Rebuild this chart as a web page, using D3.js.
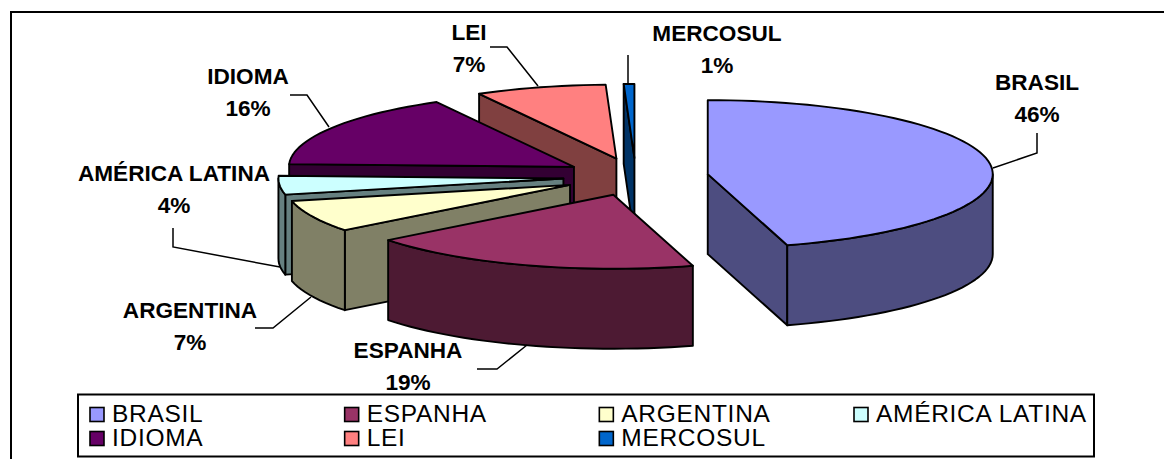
<!DOCTYPE html>
<html><head><meta charset="utf-8">
<script src="https://cdn.jsdelivr.net/npm/d3@7"></script>
<style>html,body{margin:0;padding:0;background:#fff}svg{display:block}text{font-family:"Liberation Sans",Arial,sans-serif;fill:#000}</style>
</head><body><svg id="c" width="1164" height="459"></svg>
<script>
const categories = ["BRASIL","ESPANHA","ARGENTINA","AMÉRICA LATINA","IDIOMA","LEI","MERCOSUL"];
const values = [45.5,19,7,4.1,16.4,7.4,0.6];
const topColors = ["#9999FF","#993366","#FFFFCC","#CCFFFF","#660066","#FF8080","#0066CC"];
const sideColors = ["#4D4D80","#4D1A33","#808066","#668080","#330033","#804040","#003366"];

const W=1164,H=459, cx=635.8, cy=176.8, rx=285, ry=74, depth=80, explode=0.255;
const svg=d3.select("#c");
svg.append("path").attr("d",`M11,${H} V12 H${W}`).attr("fill","none").attr("stroke","#000").attr("stroke-width",2);

const pie=d3.pie().sort(null).value(d=>d.v);
const arcs=pie(values.map((v,i)=>({v,i})));
const px=d3.scaleLinear().domain([-1,1]).range([-rx,rx]);
const py=d3.scaleLinear().domain([-1,1]).range([-ry,ry]);
const pt=(a,o,dz=0)=>[o[0]+px(Math.sin(a)),o[1]-py(Math.cos(a))+dz];
const line=d3.line();
const slices=arcs.map(d=>{
  const mid=(d.startAngle+d.endAngle)/2;
  const apex=[cx+explode*px(Math.sin(mid)),cy-explode*py(Math.cos(mid))];
  return {...d,mid,apex};
}).sort((a,b)=>a.apex[1]-b.apex[1]);
const sw=Math.PI/2,fr=3*Math.PI/2;
function arcPts(a0,a1,o,dz=0){const n=Math.max(2,Math.ceil((a1-a0)/0.04));return d3.range(n+1).map(k=>pt(a0+(a1-a0)*k/n,o,dz));}
const g=svg.append("g").attr("stroke","#000").attr("stroke-width",1.9).attr("stroke-linejoin","round");
slices.forEach(s=>{
  const i=s.data.i,o=s.apex;
  const A0=s.startAngle,A1=s.endAngle;
  const wall=(pts)=>g.append("path").attr("d",line(pts)+"Z").attr("fill",sideColors[i]);
  if(A0>Math.PI&&A0<2*Math.PI){const e=pt(A0,o);wall([o,e,[e[0],e[1]+depth],[o[0],o[1]+depth]]);}
  if(A1>0&&A1<Math.PI){const e=pt(A1,o);wall([o,e,[e[0],e[1]+depth],[o[0],o[1]+depth]]);}
  const b0=Math.max(A0,sw),b1=Math.min(A1,fr);
  if(b1>b0){const up=arcPts(b0,b1,o),dn=arcPts(b0,b1,o,depth).reverse();wall(up.concat(dn));}
  g.append("path").attr("d",line([o].concat(arcPts(A0,A1,o)))+"Z").attr("fill",topColors[i]);
});

// data labels: text block position and leader path for each category
const labelPos=[[1037,90],[408,358],[190,318],[174,181],[248,84],[469,40],[717,41]];
const leaders=[
  [[1037,133],[1037,153],[993,168]],
  [[477,369],[497,369],[527,345]],
  [[255,328],[273,328],[311,297]],
  [[173,228],[173,247],[280,267]],
  [[290,95],[307,95],[329,127]],
  [[490,47],[507,47],[538,86]],
  [[628,55],[628,85]]
];
const lg=svg.append("g");
categories.forEach((c,i)=>{
  const [x,y]=labelPos[i];
  const t=lg.append("text").attr("text-anchor","middle").attr("font-weight","bold").attr("font-size",22.6);
  t.append("tspan").attr("x",x).attr("y",y).text(c);
  t.append("tspan").attr("x",x).attr("y",y+32).text(Math.round(values[i])+"%");
});
const ll=svg.append("g").attr("fill","none").attr("stroke","#000").attr("stroke-width",1.5);
leaders.forEach(p=>ll.append("path").attr("d",line(p)));

// legend
const leg=svg.append("g");
leg.append("rect").attr("x",78).attr("y",394.5).attr("width",1016).attr("height",62).attr("fill","#fff").attr("stroke","#000").attr("stroke-width",2);
const colX=d3.scalePoint().domain([0,1,2,3]).range([90,854]);
categories.forEach((c,i)=>{
  const col=i<4?i:i-4,row=i<4?0:1,x=colX(col),y=row?438:414;
  leg.append("rect").attr("x",x).attr("y",y-6.5).attr("width",14).attr("height",14).attr("fill",topColors[i]).attr("stroke","#000").attr("stroke-width",1.6);
  leg.append("text").attr("x",x+22).attr("y",y+8).attr("font-size",24.5).attr("letter-spacing",0.7).text(c);
});
</script></body></html>
